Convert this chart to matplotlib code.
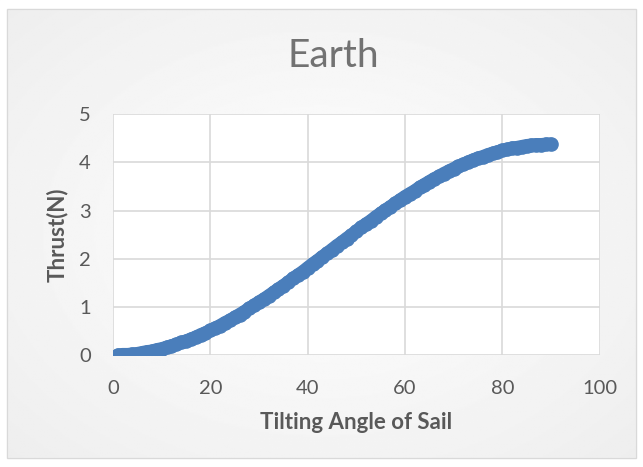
import numpy as np
import matplotlib
matplotlib.use('Agg')
import matplotlib.pyplot as plt
from matplotlib.patches import Rectangle

# tilting angle of sail (deg) and thrust (N)
angle = list(range(1, 91))
thrust = [0.00, 0.01, 0.01, 0.02, 0.03, 0.05, 0.07, 0.08, 0.11,
          0.13, 0.16, 0.19, 0.22, 0.26, 0.29, 0.33, 0.37, 0.42, 0.46,
          0.51, 0.56, 0.61, 0.67, 0.72, 0.78, 0.84, 0.90, 0.97, 1.03,
          1.10, 1.16, 1.23, 1.30, 1.37, 1.44, 1.51, 1.59, 1.66, 1.73,
          1.81, 1.89, 1.96, 2.04, 2.11, 2.19, 2.27, 2.34, 2.42, 2.49,
          2.57, 2.65, 2.72, 2.79, 2.87, 2.94, 3.01, 3.08, 3.15, 3.22,
          3.29, 3.35, 3.41, 3.48, 3.54, 3.60, 3.66, 3.71, 3.77, 3.82,
          3.87, 3.92, 3.96, 4.01, 4.05, 4.09, 4.12, 4.16, 4.19, 4.22,
          4.25, 4.27, 4.30, 4.31, 4.33, 4.35, 4.36, 4.37, 4.37, 4.38,
          4.38]
xticks = [0, 20, 40, 60, 80, 100]
yticks = [0, 1, 2, 3, 4, 5]

plt.rcParams['font.family'] = ['Lato', 'DejaVu Sans']
grey = '#595959'
blue = '#4a7ebb'

fig = plt.figure(figsize=(6.43, 4.67), dpi=100)

# soft radial background like the Excel chart area
bg = fig.add_axes([0, 0, 1, 1])
yy, xx = np.mgrid[-1:1:300j, -1:1:400j]
r = np.sqrt(xx**2 + yy**2) / np.sqrt(2)
bg.imshow(1 - 0.07 * r, cmap='gray', vmin=0, vmax=1, aspect='auto',
          extent=[0, 1, 0, 1])
bg.set_xlim(0, 1)
bg.set_ylim(0, 1)
bg.axis('off')
# white margin + thin frame
for (x0, y0, w, h) in [(0, 0, 1, 9/467), (0, 1 - 9/467, 1, 9/467),
                       (0, 0, 7/643, 1), (1 - 7/643, 0, 7/643, 1)]:
    bg.add_patch(Rectangle((x0, y0), w, h, color='white', zorder=2))
bg.add_patch(Rectangle((7/643, 9/467), 1 - 14/643, 1 - 18/467, fill=False,
                       edgecolor='#d9d9d9', lw=1, zorder=3))

ax = fig.add_axes([113/643, (467-355)/467, (599.6-113)/643, (355-114.3)/467])
ax.patch.set_facecolor('white')
ax.plot(angle, thrust, color=blue, lw=9.5, solid_capstyle='round', zorder=3)
ax.plot(angle, thrust, 'o', color=blue, ms=9.5, zorder=3)
ax.set_xlim(0, 100)
ax.set_ylim(0, 5)
ax.set_xticks(xticks)
ax.set_yticks(yticks)
ax.grid(True, color='#d9d9d9', lw=1.2)
ax.set_axisbelow(True)
for s in ax.spines.values():
    s.set_visible(False)
ax.tick_params(length=0, labelsize=14.5, labelcolor=grey)
ax.tick_params(axis='x', pad=18)
ax.tick_params(axis='y', pad=16)

ax.set_xlabel('Tilting Angle of Sail', fontsize=16, fontweight='bold',
              color=grey)
ax.xaxis.set_label_coords(0.5, -0.237)
ax.set_ylabel('Thrust(N)', fontsize=16, fontweight='bold', color=grey)
ax.yaxis.set_label_coords(-0.0935, 0.5)
# title is a light face in the original, so a paler grey
fig.text(333.5/643, 1 - 67/467, 'Earth', fontsize=28, fontweight='normal',
         color='#727272', ha='center', va='baseline')

fig.savefig('out.png', dpi=100)
